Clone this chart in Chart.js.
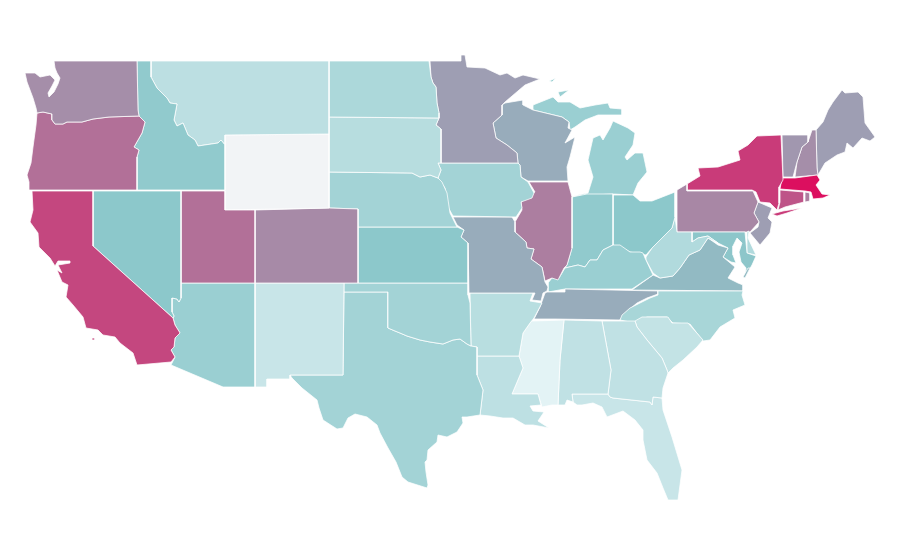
<!DOCTYPE html>
<html lang="en">
<head>
<meta charset="UTF-8">
<title>US states map</title>
<script src="https://cdn.jsdelivr.net/npm/chart.js"></script>
<style>
    body { margin: 0; background: #fff; }
</style>
</head>
<body>
<canvas id="mapa" width="900" height="560"></canvas>
<script>
// values read off the colours of the picture, 0 to 100; null = no data (WY)
const stateNames = ["WA","OR","CA","NV","ID","UT","AZ","MT","WY","CO","NM","ND","SD","NE","KS","OK","TX","MN","IA","MO","AR","LA","WI","IL","MS","AL","GA","FL","SC","NC","TN","KY","IN","OH","MI","WV","VA","MD","DE","PA","NY","NJ","CT","RI","MA","VT","NH","ME"];
const stateValues = [45,58,76,20,19,58,17,9.6,null,47,7,13,10.7,15,20,15,15,38,15,32,10.4,9.3,32,52,1,8.7,8.7,7,8,14,32,17,19,20,17,12,26,21,12,48,81,38,70,52,100,41,45,38];

// outlines, in map units; "|" separates islands and other parts
const stateOutlines = [
"54,61 137,61 138,110 139,116 109,117 93,119 82,122 67,122 63,124 55,124 52,120 52,114 43,112 37,113 36,108 33,98 27,82 25,73 35,73 40,77 50,75 55,80 52,86 48,93 49,97 54,92 58,84 60,78 57,73 55,68",
"37,113 43,112 52,114 52,120 55,124 63,124 67,122 82,122 93,119 109,117 139,116 145,122 142,133 138,140 134,147 139,150 137,157 137,190 29,190 29,182 27,175 31,163 33,147 36,125",
"32,191 93,191 93,246 173,318 175,325 180,333 175,338 174,347 171,350 175,357 171,362 137,365 133,353 120,343 115,337 103,335 98,330 86,328 83,317 73,305 66,297 68,285 62,282 57,270 62,273 58,265 70,263 70,261 58,261 55,266 50,258 39,247 38,233 30,222 33,210|92,338 95,338 95,340 92,340",
"93,191 181,191 181,298 179,302 177,299 172,298 172,312 174,316 173,318 93,246",
"137,61 151,61 151,77 157,88 167,98 170,103 177,104 174,120 177,126 183,123 188,135 195,140 198,146 218,143 221,140 225,145 225,190 137,190 137,157 139,150 134,147 138,140 142,133 145,122 139,116 138,110",
"181,191 225,191 225,210 255,210 255,283 181,283",
"181,283 255,283 255,387 223,387 171,365 175,357 171,350 174,347 175,338 180,333 175,325 173,318 174,316 172,312 172,298 177,299 179,302 181,298",
"151,61 329,61 329,134 225,135 225,145 221,140 218,143 198,146 195,140 188,135 183,123 177,126 174,120 177,104 170,103 167,98 157,88 151,77",
"225,135 329,134 329,208 225,210",
"255,210 329,208 358,209 358,283 255,283",
"255,283 344,283 343,375 290,375 290,379 267,379 267,387 255,387",
"329,61 429,61 431,77 433,83 436,87 437,103 439,113 439,118 329,117",
"329,117 439,118 436,125 441,129 441,163 438,163 441,170 438,178 430,175 420,177 412,173 329,172",
"329,172 412,173 420,177 430,175 438,178 442,182 447,193 450,213 457,227 358,227 358,209 329,208",
"358,227 457,227 464,230 461,237 468,243 468,283 358,283",
"344,283 468,283 468,295 470,303 471,346 467,344 460,339 453,340 443,344 430,342 420,340 407,336 400,333 395,331 388,328 388,292 344,292",
"344,292 388,292 388,328 395,331 400,333 407,336 420,340 430,342 443,344 453,340 460,339 467,344 471,346 477,347 477,375 483,390 480,415 467,417 462,417 463,423 457,432 447,437 438,435 437,442 428,450 427,460 425,462 426,472 428,485 427,488 408,482 402,477 396,462 388,448 380,433 377,425 367,417 355,414 348,418 343,428 337,429 323,420 319,408 317,400 302,388 292,378 290,375 343,375",
"430,61 461,61 461,55 465,55 467,67 485,68 500,75 507,73 515,78 523,75 540,79 525,85 505,102 502,105 502,115 493,123 496,138 507,145 517,153 518,163 441,163 441,129 436,125 439,118 439,113 437,103 436,87 433,83 431,77",
"441,163 518,163 520,165 521,177 528,182 534,193 532,198 521,202 522,208 516,217 453,216 448,207 445,188 438,178 441,170 438,163",
"453,217 512,217 515,222 515,232 526,242 527,248 534,249 531,259 542,267 545,282 548,287 547,291 543,293 541,301 532,300 535,293 469,293 468,243 461,237 464,230 457,225",
"470,293 533,293 530,301 542,303 534,318 530,323 523,333 519,356 477,356 477,347 471,346",
"477,356 519,356 523,368 512,394 538,394 541,405 530,406 533,411 544,412 538,421 549,428 533,425 525,425 513,418 503,418 490,416 480,415 483,390 477,375",
"505,103 523,100 523,105 533,110 562,117 569,122 568,128 572,130 565,143 575,137 570,157 567,167 568,181 528,181 521,177 520,165 518,163 517,153 507,145 496,138 493,123 502,115 502,105",
"529,182 568,182 572,197 572,248 567,265 564,268 558,280 552,278 545,281 542,267 531,259 534,249 527,248 526,242 515,232 515,222 522,210 521,202 535,192",
"532,321 564,320 560,360 558,405 552,405 542,407 538,394 512,394 523,368 519,356 523,333 530,323",
"564,320 602,321 611,370 608,394 572,394 573,402 567,400 565,405 558,405 560,360",
"602,321 635,321 637,327 647,340 662,358 667,370 668,373 663,388 662,398 653,397 652,405 650,402 613,398 610,397 608,394 611,370",
"572,394 608,394 610,397 613,398 650,402 652,405 653,397 662,398 663,410 672,437 682,470 678,500 668,500 663,488 657,473 647,460 643,440 643,430 635,420 623,411 607,417 602,407 593,403 582,405 577,405 573,402",
"635,321 642,317 668,317 672,323 688,323 703,340 697,347 683,360 673,368 668,373 667,370 662,358 647,340 637,327",
"658,291 743,291 742,295 745,305 733,310 735,318 720,327 710,340 703,341 690,324 673,323 667,317 647,317 635,323 620,320 622,315 630,308 640,303 650,298 658,295",
"547,292 565,292 565,289 658,291 658,294 647,298 637,303 625,313 620,320 555,319 534,319 540,307 545,293",
"548,292 565,289 632,289 653,275 645,258 643,253 640,252 630,252 620,245 613,245 603,250 597,260 590,260 585,267 578,265 565,268 559,278 552,278 548,283",
"572,197 587,194 613,194 613,245 603,250 597,260 590,260 585,267 578,265 565,268 567,265 572,248",
"613,195 633,195 640,201 652,201 675,192 675,217 672,228 660,240 652,248 646,255 630,252 620,247 613,245",
"573,196 613,194 633,195 638,183 647,172 643,153 635,153 627,160 625,157 633,145 635,133 628,128 613,121 610,128 603,140 600,135 593,138 588,160 593,177 588,193|533,105 553,97 558,102 570,102 580,108 595,105 608,103 610,108 622,109 622,115 598,115 585,120 575,127 570,130 569,122 562,117 533,110|558,92 569,90 560,97|549,81 556,78 552,82",
"646,257 652,248 660,240 672,228 675,217 677,232 692,232 692,242 698,238 708,236 718,243 708,238 700,250 689,255 680,268 673,276 660,278 653,273 646,260",
"632,290 653,275 660,278 673,276 680,268 689,255 700,250 708,238 718,245 728,248 723,257 735,267 728,278 738,283 743,285 743,291|743,277 748,268 750,268 745,278",
"692,232 745,232 747,253 756,256 752,265 745,277 746,268 741,262 739,252 742,243 737,238 733,246 733,255 736,263 731,262 723,257 728,248 718,243 708,236 698,238 692,242",
"747,232 749,231 748,238 756,255 747,253",
"677,190 687,184 687,191 753,191 758,202 754,213 759,222 750,232 677,232",
"687,190 687,184 700,176 698,168 718,167 740,160 738,151 748,145 757,136 781,135 783,180 779,187 779,203 777,210 770,203 760,202 756,192 752,190|772,214 783,211 802,208 787,213 777,216",
"758,202 772,208 768,218 772,222 770,233 760,245 750,233 758,227 759,222 754,213",
"780,190 804,192 804,202 785,207 778,210 780,202",
"805,192 810,193 810,201 805,202",
"782,178 795,178 817,175 820,180 816,185 822,194 830,195 823,198 813,199 811,192 805,191 780,189",
"782,135 808,135 808,142 802,147 797,162 793,177 783,177",
"812,130 816,130 817,168 818,175 795,177 797,162 802,147 808,142",
"816,130 823,122 828,110 833,102 842,90 845,93 858,92 863,97 865,123 875,137 870,141 862,138 853,148 847,143 845,152 837,155 825,163 818,175 817,168"
];

// colour ramp, very light -> teal -> magenta
function corDoValor(v) {
    if (v === null) return '#f2f4f6';
    let a, b, t;
    if (v < 20) {
        a = [232, 245, 247]; b = [140, 200, 203]; t = v / 20;
    } else {
        a = [140, 200, 203]; b = [220, 15, 95]; t = (v - 20) / 80;
    }
    const c = a.map((n, i) => Math.round(n + (b[i] - n) * t));
    return `rgb(${c[0]},${c[1]},${c[2]})`;
}

function lerContorno(texto) {
    return texto.split(" ").map(par => {
        const [x, y] = par.split(",").map(Number);
        return { x: x, y: y };
    });
}

const datasets = [];
for (let i = 0; i < stateNames.length; i++) {
    stateOutlines[i].split("|").forEach(parte => {
        const pontos = lerContorno(parte);
        pontos.push(pontos[0]);
        datasets.push({
            label: stateNames[i],
            data: pontos,
            showLine: true,
            fill: 'shape',
            tension: 0,
            backgroundColor: corDoValor(stateValues[i]),
            borderColor: '#ffffff',
            borderWidth: 0.75,
            pointRadius: 0,
            pointHoverRadius: 0
        });
    });
}

new Chart(document.getElementById('mapa').getContext('2d'), {
    type: 'scatter',
    data: { datasets: datasets },
    options: {
        responsive: false,
        animation: false,
        plugins: { legend: { display: false }, tooltip: { enabled: false } },
        scales: {
            x: { type: 'linear', min: 0, max: 900, display: false },
            y: { type: 'linear', min: 0, max: 560, reverse: true, display: false }
        }
    }
});
</script>
</body>
</html>
